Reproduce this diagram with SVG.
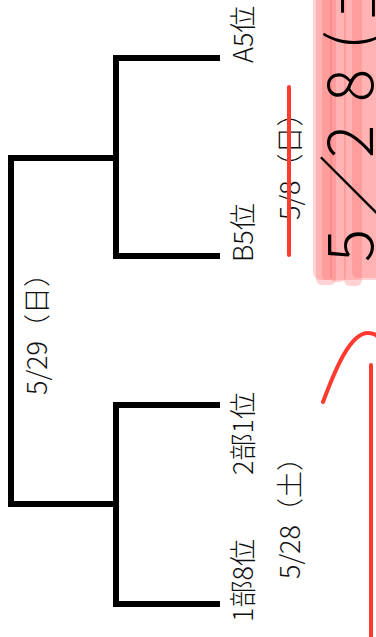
<svg xmlns="http://www.w3.org/2000/svg" width="376" height="637" viewBox="0 0 376 637">
<style>
.ln{fill:none;stroke:#000;stroke-width:6;stroke-linecap:butt;stroke-linejoin:miter}
.t{font-family:"Noto Sans CJK JP","Noto Sans",sans-serif;font-size:27px;font-weight:300;fill:#111}
.big{font-family:"Noto Sans CJK JP","Noto Sans",sans-serif;font-size:62px;font-weight:300;fill:#000}
.red{fill:none;stroke:#ff3b30;stroke-width:4;stroke-linecap:round}
.hl{fill:#ff6060;opacity:0.28}
</style>
<rect width="376" height="637" fill="#fff"/>
<g id="connectors">
<path class="ln" d="M220,58 H116 V256 H220"/>
<path class="ln" d="M220,405 H116 V604 H220"/>
<path class="ln" d="M116,158 H11 V504 H116"/>
</g>
<g id="n-a5"><text class="t" transform="translate(253,63) rotate(-90)">A5位</text></g>
<g id="n-b5"><text class="t" transform="translate(253,262) rotate(-90)">B5位</text></g>
<g id="n-2bu1"><text class="t" transform="translate(253,475) rotate(-90)">2部1位</text></g>
<g id="n-1bu8"><text class="t" transform="translate(253,622) rotate(-90)">1部8位</text></g>
<g id="d-58"><text class="t" transform="translate(300,220) rotate(-90)">5/8（日）</text></g>
<g id="d-528"><text class="t" transform="translate(300,579) rotate(-90)">5/28（土）</text></g>
<g id="d-529"><text class="t" transform="translate(47,395) rotate(-90)">5/29（日）</text></g>
<g id="highlight">
<rect class="hl" x="313" y="-10" width="70" height="290" rx="8"/>
<rect class="hl" x="316" y="-10" width="20" height="295" rx="6"/>
<rect class="hl" x="330" y="-10" width="16" height="292" rx="6"/>
<rect class="hl" x="344" y="-10" width="18" height="296" rx="6"/>
<rect class="hl" x="352" y="-10" width="30" height="288" rx="6"/>
<rect class="hl" x="322" y="-10" width="10" height="290" rx="4"/>
</g>
<g id="big-date"><text class="big" transform="translate(373,262) rotate(-90)" x="0 46 104 160 212 242">5／28(土</text></g>
<g id="strike"><line class="red" x1="289" y1="87" x2="289" y2="255"/></g>
<g id="marks">
<path class="red" d="M323,402 C335,370 350,333 368,333 C374,333 378,336 380,340"/>
<line class="red" x1="371" y1="365" x2="371" y2="640"/>
</g>
</svg>
